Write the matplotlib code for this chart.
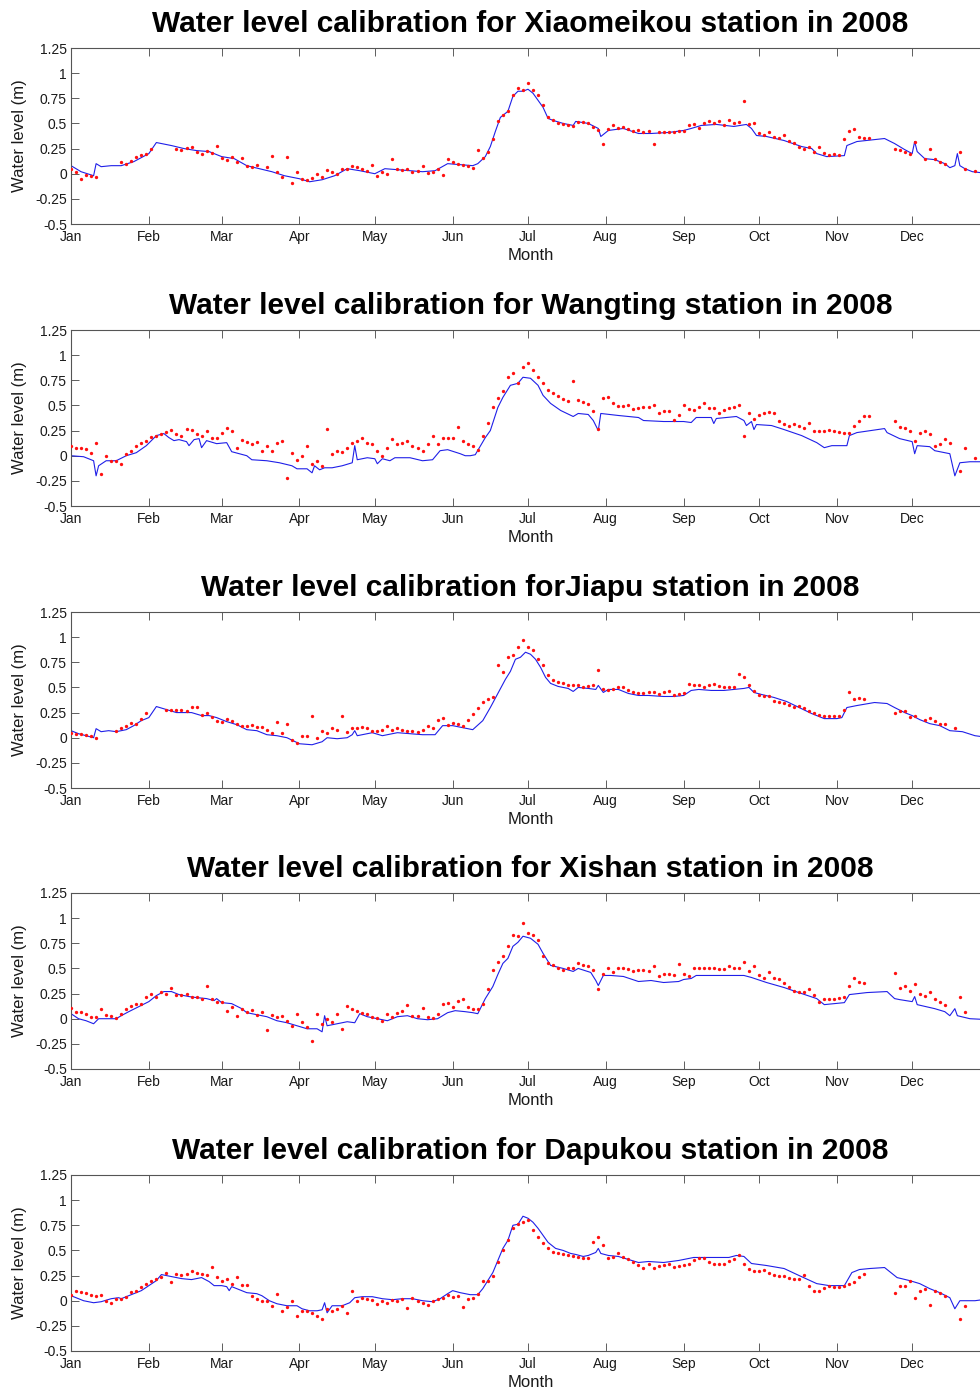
import numpy as np
import matplotlib.pyplot as plt

plt.rcParams['font.family'] = ['Liberation Sans', 'DejaVu Sans']

nan = np.nan

stations = ["Xiaomeikou", "Wangting", "Jiapu", "Xishan", "Dapukou"]
titles = [
    "Water level calibration for Xiaomeikou station in 2008",
    "Water level calibration for Wangting station in 2008",
    "Water level calibration forJiapu station in 2008",
    "Water level calibration for Xishan station in 2008",
    "Water level calibration for Dapukou station in 2008",
]

month_starts = [0, 31, 60, 91, 121, 152, 182, 213, 244, 274, 305, 335]
month_labels = ["Jan", "Feb", "Mar", "Apr", "May", "Jun",
                "Jul", "Aug", "Sep", "Oct", "Nov", "Dec"]
y_ticks = [-0.5, -0.25, 0, 0.25, 0.5, 0.75, 1, 1.25]
y_tick_labels = ["-0.5", "-0.25", "0", "0.25", "0.5", "0.75", "1", "1.25"]

# simulated water level, (day of year, metres)
xiaomeikou_sim = [
    (0, 0.08), (4, 0.02), (9, -0.02), (10, 0.10), (12, 0.07), (16, 0.08), (20, 0.08),
    (25, 0.12), (31, 0.20), (34, 0.31), (40, 0.28), (45, 0.25), (50, 0.23), (55, 0.22),
    (60, 0.17), (65, 0.15), (70, 0.08), (75, 0.05), (80, 0.02), (85, -0.02), (91, -0.05),
    (95, -0.08), (100, -0.06), (105, -0.02), (110, 0.05), (115, 0.03), (121, 0.00),
    (125, 0.05), (130, 0.04), (135, 0.03), (140, 0.02), (145, 0.03), (150, 0.10),
    (155, 0.09), (160, 0.08), (162, 0.10), (165, 0.17), (167, 0.27), (169, 0.42),
    (171, 0.56), (174, 0.62), (176, 0.77), (178, 0.82), (180, 0.82), (182, 0.84),
    (184, 0.80), (186, 0.73), (188, 0.66), (190, 0.55), (192, 0.53), (196, 0.50),
    (200, 0.48), (201, 0.52), (206, 0.50), (210, 0.45), (211, 0.37), (214, 0.43),
    (220, 0.45), (226, 0.40), (231, 0.40), (238, 0.41), (244, 0.43), (247, 0.45),
    (251, 0.48), (257, 0.49), (264, 0.47), (269, 0.49), (271, 0.45), (273, 0.38),
    (277, 0.37), (284, 0.33), (291, 0.27), (295, 0.25), (297, 0.20), (301, 0.17),
    (308, 0.18), (309, 0.28), (313, 0.32), (324, 0.35), (328, 0.30), (332, 0.24),
    (335, 0.20), (336, 0.32), (337, 0.22), (340, 0.15), (344, 0.14), (348, 0.10),
    (350, 0.06), (352, 0.08), (353, 0.20), (354, 0.08), (356, 0.05), (359, 0.02),
    (366, 0.00),
]

wangting_sim = [
    (0, 0.00), (5, -0.01), (9, -0.05), (10, -0.20), (11, -0.10), (14, -0.05), (18, -0.05),
    (22, 0.00), (26, 0.03), (30, 0.10), (34, 0.20), (37, 0.22), (39, 0.18), (41, 0.15),
    (43, 0.16), (46, 0.14), (47, 0.10), (49, 0.16), (51, 0.17), (52, 0.08), (54, 0.15),
    (58, 0.12), (62, 0.13), (64, 0.04), (70, 0.00), (72, -0.04), (78, -0.05), (83, -0.07),
    (88, -0.10), (90, -0.13), (94, -0.13), (96, -0.17), (97, -0.10), (99, -0.14),
    (101, -0.12), (104, -0.12), (108, -0.10), (112, -0.07), (113, 0.10), (114, -0.04),
    (118, -0.02), (121, -0.03), (122, -0.08), (124, -0.03), (127, -0.05), (129, -0.02),
    (135, -0.02), (140, -0.05), (144, -0.04), (147, 0.05), (150, 0.06), (155, 0.02),
    (157, 0.00), (159, 0.00), (161, 0.01), (165, 0.18), (167, 0.25), (170, 0.48),
    (172, 0.58), (175, 0.70), (178, 0.72), (180, 0.78), (183, 0.77), (186, 0.70),
    (188, 0.60), (191, 0.52), (195, 0.45), (200, 0.39), (202, 0.42), (206, 0.41),
    (208, 0.35), (210, 0.25), (211, 0.42), (218, 0.40), (226, 0.38), (228, 0.35),
    (236, 0.34), (244, 0.34), (247, 0.33), (249, 0.38), (255, 0.38), (256, 0.32),
    (257, 0.37), (265, 0.39), (268, 0.35), (269, 0.30), (271, 0.34), (272, 0.26),
    (273, 0.31), (279, 0.30), (284, 0.26), (291, 0.20), (297, 0.13), (300, 0.08),
    (303, 0.10), (309, 0.10), (310, 0.20), (313, 0.23), (324, 0.27), (325, 0.23),
    (330, 0.17), (335, 0.14), (336, 0.02), (337, 0.10), (342, 0.09), (344, 0.05),
    (350, 0.02), (352, -0.20), (354, -0.07), (358, -0.06), (366, -0.06),
]

jiapu_sim = [
    (0, 0.07), (3, 0.04), (9, 0.00), (10, 0.09), (12, 0.06), (15, 0.07), (18, 0.06),
    (22, 0.08), (25, 0.12), (28, 0.17), (31, 0.20), (34, 0.31), (38, 0.28), (42, 0.25),
    (48, 0.25), (52, 0.22), (55, 0.22), (58, 0.20), (62, 0.16), (66, 0.13), (70, 0.08),
    (74, 0.07), (78, 0.03), (82, 0.02), (86, 0.00), (91, -0.06), (96, -0.07), (100, -0.04),
    (102, 0.00), (106, -0.01), (110, 0.00), (112, 0.03), (113, 0.07), (114, 0.02),
    (120, 0.05), (124, 0.02), (130, 0.05), (135, 0.04), (140, 0.03), (145, 0.03),
    (148, 0.12), (152, 0.12), (156, 0.10), (160, 0.08), (164, 0.17), (167, 0.30),
    (170, 0.44), (173, 0.58), (175, 0.66), (177, 0.78), (179, 0.80), (181, 0.85),
    (183, 0.83), (185, 0.78), (187, 0.70), (189, 0.60), (191, 0.54), (194, 0.51),
    (198, 0.49), (200, 0.46), (202, 0.50), (206, 0.49), (209, 0.48), (210, 0.52),
    (212, 0.45), (214, 0.48), (218, 0.48), (222, 0.44), (226, 0.42), (230, 0.42),
    (236, 0.41), (240, 0.41), (244, 0.42), (247, 0.47), (250, 0.48), (255, 0.47),
    (260, 0.47), (264, 0.48), (268, 0.49), (270, 0.50), (272, 0.45), (275, 0.43),
    (280, 0.40), (285, 0.36), (290, 0.30), (295, 0.24), (300, 0.19), (305, 0.19),
    (307, 0.20), (309, 0.30), (313, 0.32), (320, 0.35), (325, 0.34), (328, 0.30),
    (332, 0.25), (335, 0.22), (338, 0.18), (342, 0.14), (346, 0.12), (350, 0.07),
    (355, 0.06), (360, 0.02), (366, 0.00),
]

xishan_sim = [
    (0, 0.05), (3, 0.00), (6, -0.02), (9, -0.05), (11, 0.00), (14, 0.00), (18, 0.00),
    (20, 0.03), (23, 0.07), (27, 0.12), (31, 0.17), (34, 0.23), (37, 0.27), (40, 0.27),
    (43, 0.24), (47, 0.22), (50, 0.21), (54, 0.20), (57, 0.18), (58, 0.20), (60, 0.16),
    (64, 0.15), (68, 0.10), (70, 0.06), (74, 0.04), (78, 0.02), (82, -0.02), (86, -0.04),
    (90, -0.07), (94, -0.10), (98, -0.10), (100, -0.13), (101, 0.03), (102, -0.07),
    (106, -0.05), (110, -0.03), (113, -0.04), (115, 0.05), (118, 0.02), (122, 0.00),
    (126, -0.02), (130, 0.02), (134, 0.03), (138, 0.00), (142, -0.01), (146, 0.00),
    (150, 0.06), (153, 0.08), (157, 0.07), (160, 0.06), (162, 0.05), (165, 0.20),
    (168, 0.32), (170, 0.44), (172, 0.55), (174, 0.60), (176, 0.72), (178, 0.76),
    (180, 0.82), (183, 0.80), (186, 0.74), (188, 0.65), (191, 0.53), (196, 0.50),
    (200, 0.47), (202, 0.50), (207, 0.46), (209, 0.38), (210, 0.33), (212, 0.43),
    (215, 0.43), (220, 0.42), (226, 0.37), (231, 0.38), (236, 0.36), (242, 0.37),
    (244, 0.39), (247, 0.40), (249, 0.43), (257, 0.43), (268, 0.43), (271, 0.41),
    (277, 0.36), (284, 0.31), (291, 0.25), (297, 0.20), (300, 0.14), (308, 0.16),
    (310, 0.24), (317, 0.26), (325, 0.27), (328, 0.20), (330, 0.19), (335, 0.17),
    (336, 0.22), (337, 0.14), (344, 0.10), (348, 0.07), (350, 0.03), (352, 0.10),
    (353, 0.03), (358, 0.00), (366, -0.01),
]

dapukou_sim = [
    (0, 0.05), (5, 0.00), (9, -0.02), (12, -0.01), (16, 0.02), (19, 0.03), (20, 0.02),
    (24, 0.06), (28, 0.10), (31, 0.15), (34, 0.20), (36, 0.26), (38, 0.25), (40, 0.24),
    (44, 0.22), (48, 0.21), (52, 0.23), (55, 0.19), (57, 0.15), (60, 0.15), (62, 0.14),
    (63, 0.10), (64, 0.14), (68, 0.10), (70, 0.08), (74, 0.07), (76, 0.05), (79, 0.00),
    (82, -0.03), (86, -0.05), (90, -0.05), (92, -0.08), (95, -0.10), (98, -0.10),
    (100, -0.09), (101, -0.02), (102, -0.12), (104, -0.05), (108, -0.05), (111, -0.02),
    (113, 0.03), (116, 0.04), (120, 0.04), (124, 0.02), (128, 0.01), (132, 0.02),
    (136, 0.02), (140, 0.00), (144, -0.01), (147, 0.02), (150, 0.07), (152, 0.10),
    (155, 0.08), (159, 0.06), (162, 0.06), (164, 0.12), (166, 0.20), (168, 0.28),
    (170, 0.40), (172, 0.52), (174, 0.60), (176, 0.75), (178, 0.76), (180, 0.84),
    (182, 0.82), (184, 0.78), (186, 0.72), (188, 0.65), (190, 0.58), (193, 0.52),
    (196, 0.50), (199, 0.47), (201, 0.46), (204, 0.44), (206, 0.45), (209, 0.48),
    (210, 0.52), (211, 0.47), (214, 0.45), (218, 0.44), (222, 0.41), (226, 0.38),
    (230, 0.39), (236, 0.38), (242, 0.40), (248, 0.43), (256, 0.43), (262, 0.43),
    (265, 0.45), (268, 0.44), (271, 0.37), (277, 0.35), (284, 0.32), (290, 0.25),
    (297, 0.17), (302, 0.15), (308, 0.15), (311, 0.28), (314, 0.31), (318, 0.32),
    (324, 0.33), (327, 0.27), (329, 0.23), (334, 0.20), (338, 0.17), (342, 0.12),
    (346, 0.08), (350, 0.03), (352, -0.08), (354, 0.00), (360, 0.00), (366, 0.02),
]

# observed water level every second day from Jan 1 (nan = no record)
obs_days = np.arange(0, 366, 2)

xiaomeikou_obs = [
    0.05, 0.02, -0.05, -0.01, -0.02, -0.03, nan, nan, nan, nan,
    0.12, 0.10, 0.13, 0.17, 0.19, 0.20, 0.25, nan, nan, nan,
    nan, 0.25, 0.24, 0.26, 0.27, 0.22, 0.20, 0.23, 0.21, 0.28,
    0.16, 0.14, 0.17, 0.12, 0.16, 0.08, 0.07, 0.09, nan, 0.07,
    0.18, 0.02, -0.03, 0.17, -0.09, 0.02, -0.05, -0.06, -0.04, 0.00,
    -0.03, 0.04, 0.02, 0.00, 0.05, 0.05, 0.08, 0.07, 0.05, 0.03,
    0.09, -0.02, 0.02, 0.00, 0.15, 0.05, 0.04, 0.05, 0.02, 0.03,
    0.08, 0.01, 0.02, 0.05, -0.01, 0.15, 0.12, 0.10, 0.09, 0.08,
    0.06, 0.24, 0.16, 0.22, 0.35, 0.52, 0.58, 0.62, 0.78, 0.85,
    0.83, 0.90, 0.83, 0.78, 0.68, 0.56, 0.53, 0.50, 0.49, 0.48,
    0.47, 0.51, 0.51, 0.50, 0.46, 0.43, 0.30, 0.44, 0.48, 0.45,
    0.46, 0.44, 0.42, 0.43, 0.41, 0.42, 0.30, 0.41, 0.41, 0.41,
    0.41, 0.42, 0.42, 0.48, 0.49, 0.45, 0.50, 0.52, 0.50, 0.52,
    0.48, 0.53, 0.50, 0.51, 0.72, 0.49, 0.50, 0.40, 0.38, 0.41,
    0.37, 0.36, 0.38, 0.33, 0.31, 0.27, 0.25, 0.27, 0.22, 0.27,
    0.21, 0.19, 0.20, 0.19, 0.35, 0.42, 0.44, 0.37, 0.36, 0.36,
    nan, nan, nan, nan, 0.25, 0.24, 0.22, 0.20, 0.32, nan,
    0.15, 0.25, 0.15, 0.12, 0.10, nan, nan, 0.22, 0.05, nan,
    0.03, nan, nan,
]

wangting_obs = [
    0.10, 0.08, 0.08, 0.07, 0.03, 0.13, -0.18, 0.00, -0.05, -0.05,
    -0.08, 0.02, 0.05, 0.10, 0.13, 0.15, 0.19, 0.20, 0.22, 0.24,
    0.26, 0.22, 0.20, 0.27, 0.26, 0.22, 0.20, 0.25, 0.18, 0.18,
    0.23, 0.28, 0.25, 0.08, 0.16, 0.14, 0.12, 0.14, 0.05, 0.10,
    0.05, 0.13, 0.15, -0.22, 0.03, -0.04, 0.00, 0.10, -0.08, -0.05,
    -0.10, 0.27, 0.02, 0.05, 0.04, 0.08, 0.13, 0.15, 0.18, 0.13,
    0.12, 0.05, 0.00, 0.08, 0.17, 0.12, 0.13, 0.15, 0.10, 0.08,
    0.05, 0.12, 0.20, 0.12, 0.18, 0.18, 0.18, 0.29, 0.15, 0.12,
    0.10, 0.06, 0.20, 0.33, 0.48, 0.57, 0.64, 0.78, 0.82, 0.72,
    0.88, 0.92, 0.85, 0.78, 0.72, 0.65, 0.62, 0.59, 0.56, 0.54,
    0.74, 0.55, 0.53, 0.51, 0.44, 0.27, 0.57, 0.58, 0.52, 0.49,
    0.49, 0.50, 0.46, 0.47, 0.48, 0.48, 0.50, 0.42, 0.44, 0.44,
    0.36, 0.40, 0.50, 0.46, 0.45, 0.48, 0.52, 0.47, 0.47, 0.42,
    0.45, 0.47, 0.48, 0.50, 0.20, 0.42, 0.37, 0.40, 0.42, 0.43,
    0.42, 0.35, 0.32, 0.30, 0.32, 0.30, 0.28, 0.33, 0.25, 0.25,
    0.25, 0.26, 0.25, 0.24, 0.23, 0.23, 0.30, 0.35, 0.39, 0.39,
    nan, nan, nan, nan, 0.35, 0.29, 0.28, 0.25, 0.15, 0.23,
    0.25, 0.22, 0.10, 0.12, 0.17, 0.13, nan, -0.15, 0.08, nan,
    -0.02, nan, nan,
]

jiapu_obs = [
    0.05, 0.04, 0.04, 0.03, 0.02, 0.00, nan, nan, nan, 0.07,
    0.10, 0.12, 0.15, 0.14, 0.19, 0.25, nan, nan, nan, 0.28,
    0.28, 0.28, 0.28, 0.27, 0.31, 0.31, 0.23, 0.25, 0.21, 0.17,
    0.16, 0.19, 0.17, 0.14, 0.12, 0.12, 0.13, 0.11, 0.11, 0.08,
    0.05, 0.16, 0.05, 0.14, -0.02, -0.05, 0.02, 0.02, 0.22, 0.00,
    0.07, 0.05, 0.10, 0.08, 0.22, 0.06, 0.10, 0.10, 0.11, 0.10,
    0.07, 0.07, 0.08, 0.12, 0.08, 0.10, 0.08, 0.07, 0.07, 0.06,
    0.08, 0.12, 0.10, 0.18, 0.20, 0.13, 0.15, 0.14, 0.12, 0.18,
    0.24, 0.30, 0.36, 0.38, 0.40, 0.72, 0.65, 0.80, 0.82, 0.90,
    0.97, 0.90, 0.87, 0.78, 0.72, 0.62, 0.57, 0.55, 0.54, 0.52,
    0.52, 0.52, 0.50, 0.51, 0.52, 0.67, 0.48, 0.47, 0.48, 0.50,
    0.50, 0.47, 0.45, 0.44, 0.44, 0.45, 0.45, 0.43, 0.45, 0.46,
    0.42, 0.43, 0.44, 0.53, 0.52, 0.52, 0.50, 0.52, 0.53, 0.51,
    0.50, 0.50, 0.50, 0.63, 0.60, 0.52, 0.46, 0.42, 0.41, 0.41,
    0.37, 0.36, 0.35, 0.33, 0.31, 0.32, 0.30, 0.27, 0.25, 0.23,
    0.22, 0.22, 0.22, 0.22, 0.28, 0.45, 0.38, 0.39, 0.38, nan,
    nan, nan, nan, nan, 0.25, 0.27, 0.27, 0.21, 0.22, nan,
    0.18, 0.20, 0.17, 0.14, 0.14, nan, 0.10, nan, nan, nan,
    nan, nan, nan,
]

xishan_obs = [
    0.11, 0.07, 0.07, 0.05, 0.02, 0.02, 0.10, 0.04, 0.03, 0.01,
    0.05, 0.10, 0.13, 0.15, 0.15, 0.22, 0.25, 0.22, 0.27, 0.25,
    0.31, 0.24, 0.24, 0.25, 0.22, 0.22, 0.20, 0.33, 0.20, 0.17,
    0.17, 0.08, 0.12, 0.03, 0.10, 0.07, 0.09, 0.04, 0.07, -0.11,
    0.04, 0.02, 0.03, -0.02, -0.07, 0.05, -0.03, -0.08, -0.22, 0.05,
    -0.05, 0.00, -0.03, 0.05, -0.10, 0.13, 0.10, 0.08, 0.06, 0.05,
    0.02, 0.01, -0.02, 0.05, 0.02, 0.06, 0.08, 0.14, 0.03, 0.03,
    0.11, 0.02, 0.01, 0.05, 0.15, 0.16, 0.12, 0.18, 0.20, 0.12,
    0.10, 0.10, 0.15, 0.30, 0.48, 0.56, 0.62, 0.72, 0.83, 0.82,
    0.95, 0.85, 0.83, 0.78, 0.62, 0.55, 0.53, 0.50, 0.48, 0.50,
    0.50, 0.55, 0.53, 0.52, 0.48, 0.30, 0.44, 0.50, 0.46, 0.50,
    0.50, 0.49, 0.47, 0.48, 0.48, 0.47, 0.52, 0.42, 0.44, 0.44,
    0.43, 0.54, 0.44, 0.42, 0.50, 0.50, 0.50, 0.50, 0.50, 0.49,
    0.49, 0.52, 0.50, 0.50, 0.56, 0.47, 0.52, 0.43, 0.40, 0.46,
    0.40, 0.39, 0.36, 0.32, 0.28, 0.27, 0.27, 0.30, 0.24, 0.17,
    0.20, 0.20, 0.20, 0.21, 0.22, 0.33, 0.40, 0.37, 0.36, nan,
    nan, nan, nan, nan, 0.45, 0.31, 0.33, 0.28, 0.35, 0.25,
    0.23, 0.27, 0.20, 0.17, 0.14, nan, nan, 0.22, 0.07, nan,
    nan, nan, nan,
]

dapukou_obs = [
    0.06, 0.10, 0.09, 0.08, 0.06, 0.05, 0.06, 0.00, -0.02, 0.02,
    0.02, 0.04, 0.09, 0.10, 0.14, 0.17, 0.20, 0.22, 0.24, 0.28,
    0.19, 0.27, 0.26, 0.27, 0.30, 0.28, 0.27, 0.26, 0.34, 0.24,
    0.20, 0.22, 0.17, 0.24, 0.16, 0.16, 0.05, 0.02, 0.00, 0.00,
    -0.05, 0.07, -0.10, -0.06, 0.00, -0.15, -0.10, -0.10, -0.12, -0.15,
    -0.18, -0.08, -0.10, -0.08, -0.05, -0.12, 0.10, 0.00, 0.03, 0.02,
    0.01, -0.03, 0.00, -0.02, 0.01, 0.00, 0.02, -0.07, 0.03, 0.00,
    -0.02, -0.04, 0.00, 0.02, 0.03, 0.06, 0.04, 0.05, -0.06, 0.02,
    0.03, 0.07, 0.20, 0.20, 0.25, 0.38, 0.50, 0.60, 0.72, 0.76,
    0.78, 0.80, 0.70, 0.63, 0.57, 0.52, 0.48, 0.47, 0.46, 0.45,
    0.44, 0.43, 0.42, 0.42, 0.58, 0.63, 0.55, 0.42, 0.43, 0.47,
    0.43, 0.41, 0.38, 0.36, 0.33, 0.37, 0.33, 0.35, 0.36, 0.37,
    0.34, 0.35, 0.36, 0.37, 0.40, 0.42, 0.42, 0.38, 0.37, 0.37,
    0.37, 0.39, 0.41, 0.45, 0.37, 0.32, 0.30, 0.30, 0.31, 0.28,
    0.26, 0.25, 0.25, 0.23, 0.22, 0.22, 0.26, 0.15, 0.10, 0.10,
    0.13, 0.15, 0.14, 0.14, 0.15, 0.17, 0.19, 0.24, 0.27, nan,
    nan, nan, nan, nan, 0.08, 0.15, 0.15, 0.20, 0.03, 0.10,
    0.12, -0.04, 0.10, 0.08, 0.05, nan, nan, -0.18, -0.05, nan,
    nan, nan, nan,
]

sim_series = [xiaomeikou_sim, wangting_sim, jiapu_sim, xishan_sim, dapukou_sim]
obs_series = [xiaomeikou_obs, wangting_obs, jiapu_obs, xishan_obs, dapukou_obs]

fig = plt.figure(figsize=(9.8, 13.89), dpi=100)
W, H = 980.0, 1389.0
ax_left, ax_right = 71, 990
ax_tops = [48, 330, 612, 893, 1175]
ax_h = 176

for i, name in enumerate(stations):
    top = ax_tops[i]
    ax = fig.add_axes([ax_left / W, 1 - (top + ax_h) / H,
                       (ax_right - ax_left) / W, ax_h / H])
    sim = np.array(sim_series[i])
    obs = np.array(obs_series[i], dtype=float)

    ax.plot(sim[:, 0], sim[:, 1], color='#1f1fe8', lw=0.8, zorder=2)
    ax.plot(obs_days, obs, linestyle='none', marker='o', ms=2.4,
            mfc='#ff1010', mec='none', zorder=3)

    ax.set_xlim(0, 366)
    ax.set_ylim(-0.5, 1.25)
    ax.set_xticks(month_starts)
    ax.set_xticklabels(month_labels)
    ax.set_yticks(y_ticks)
    ax.set_yticklabels(y_tick_labels)
    ax.tick_params(direction='in', length=6, width=0.6, top=True, right=True,
                   labelsize=10, colors='#444444', labelcolor='#1a1a1a')
    ax.tick_params(axis='x', pad=4.5)
    ax.tick_params(axis='y', pad=3)
    for sp in ax.spines.values():
        sp.set_color('#555555')
        sp.set_linewidth(0.8)

    ax.set_xlabel("Month", fontsize=12, labelpad=2.5, color='#1a1a1a')
    ax.set_ylabel("Water level (m)", fontsize=12, labelpad=6, color='#1a1a1a')
    ax.set_title(titles[i], fontsize=21.5, fontweight='bold', pad=11.5)

fig.savefig("out.png", dpi=100)
